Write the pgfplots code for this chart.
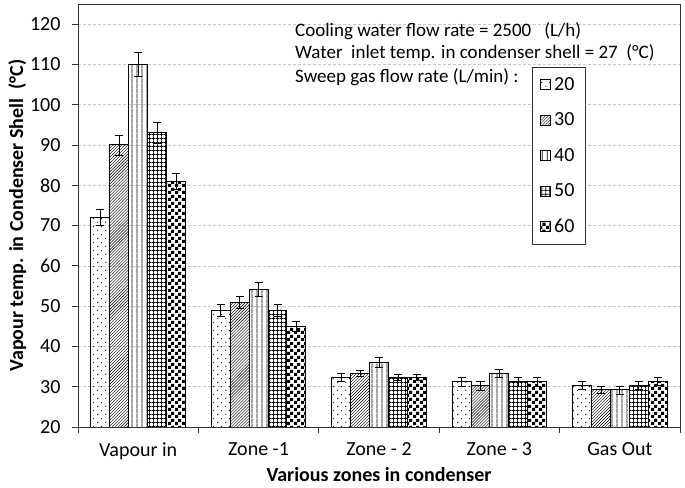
\documentclass[border=0pt]{standalone}
\usepackage{fontspec}
\setmainfont{Carlito}
\usepackage{pgfplots}
\pgfplotsset{compat=1.18}
\usetikzlibrary{patterns}

\pgfdeclarepatternformonly{sdots}{\pgfpoint{0bp}{0bp}}{\pgfpoint{8bp}{8bp}}{\pgfpoint{8bp}{8bp}}{%
  \pgfpathcircle{\pgfpoint{2bp}{2bp}}{0.7bp}\pgfpathcircle{\pgfpoint{6bp}{6bp}}{0.7bp}\pgfusepath{fill}}
\pgfdeclarepatternformonly{vlines}{\pgfpoint{0bp}{0bp}}{\pgfpoint{5bp}{5bp}}{\pgfpoint{5bp}{5bp}}{%
  \pgfsetlinewidth{0.9bp}\pgfpathmoveto{\pgfpoint{2.5bp}{-0.5bp}}\pgfpathlineto{\pgfpoint{2.5bp}{5.5bp}}\pgfusepath{stroke}}
\pgfdeclarepatternformonly{mygrid}{\pgfpoint{0bp}{0bp}}{\pgfpoint{4bp}{4bp}}{\pgfpoint{4bp}{4bp}}{%
  \pgfsetlinewidth{0.9bp}\pgfpathmoveto{\pgfpoint{2bp}{-0.5bp}}\pgfpathlineto{\pgfpoint{2bp}{4.5bp}}%
  \pgfpathmoveto{\pgfpoint{-0.5bp}{2bp}}\pgfpathlineto{\pgfpoint{4.5bp}{2bp}}\pgfusepath{stroke}}
\pgfdeclarepatternformonly{mychecker}{\pgfpoint{0bp}{0bp}}{\pgfpoint{7bp}{7bp}}{\pgfpoint{7bp}{7bp}}{%
  \pgfpathrectangle{\pgfpoint{0bp}{0bp}}{\pgfpoint{3.5bp}{3.5bp}}%
  \pgfpathrectangle{\pgfpoint{3.5bp}{3.5bp}}{\pgfpoint{3.5bp}{3.5bp}}\pgfusepath{fill}}

\begin{document}
\begin{tikzpicture}
\path[use as bounding box] (-78bp,-61bp) rectangle (607bp,427bp);
\begin{axis}[
  at={(0,0)}, anchor=south west,
  width=602bp, height=423bp, scale only axis,
  font=\fontsize{20bp}{24bp}\selectfont,
  /pgf/number format/assume math mode=true,
  xmin=-0.5, xmax=4.5,
  ymin=20, ymax=125,
  ytick={20,30,...,120},
  xtick={-0.5,0.5,...,4.5},
  xticklabels={Vapour in, Zone -1, Zone - 2, Zone - 3, Gas Out},
  x tick label as interval,
  xtick pos=bottom, ytick pos=left,
  tick align=outside,
  major tick length=6bp,
  tick style={black!80, line width=0.8bp},
  yticklabel style={xshift=-8bp},
  xticklabel style={yshift=-6bp},
  axis line style={black!80, line width=0.9bp},
  ymajorgrids,
  major grid style={gray!45, dash pattern=on 3bp off 2bp, line width=0.6bp},
  xlabel={\bfseries Various zones in condenser},
  xlabel shift=1bp,
  ylabel={\bfseries Vapour temp. in Condenser Shell\ \ (°C)},
  ylabel shift=-3bp,
  ybar=0pt, bar width=0.157,
  legend style={at={(rel axis cs:0.754,0.851)}, anchor=north west,
    draw=black!80, line width=0.8bp, row sep=15bp, inner ysep=7bp, inner xsep=8bp,
    nodes={inner sep=3bp},
    font=\fontsize{20bp}{24bp}\selectfont, cells={anchor=west}},
  legend cell align=left,
  legend image code/.code={\draw[#1, line width=0.8bp] (0bp,-5bp) rectangle (10bp,5bp);},
  every axis plot/.append style={draw=black, line width=1bp,
    error bars/y dir=both, error bars/y explicit,
    error bars/error bar style={line width=0.8bp, black},
    error bars/error mark options={rotate=90, mark size=4bp, line width=0.8bp, black}},
]
\addplot[pattern=sdots] coordinates {(0,72) +- (0,2) (1,49) +- (0,1.5) (2,32.2) +- (0,1) (3,31.2) +- (0,1) (4,30.3) +- (0,1)};
\addplot[pattern=north east lines] coordinates {(0,90) +- (0,2.5) (1,51) +- (0,1.5) (2,33.3) +- (0,0.8) (3,30.2) +- (0,1) (4,29.2) +- (0,0.8)};
\addplot[pattern=vlines] coordinates {(0,110) +- (0,3) (1,54.2) +- (0,1.8) (2,36) +- (0,1.2) (3,33.4) +- (0,1) (4,29.2) +- (0,1)};
\addplot[pattern=mygrid] coordinates {(0,93) +- (0,2.5) (1,49) +- (0,1.5) (2,32.3) +- (0,0.8) (3,31.2) +- (0,1) (4,30.3) +- (0,1)};
\addplot[pattern=mychecker] coordinates {(0,81) +- (0,2) (1,45) +- (0,1.2) (2,32.3) +- (0,0.7) (3,31.2) +- (0,1) (4,31.3) +- (0,1)};
\legend{20,30,40,50,60}
\node[anchor=west, inner sep=0pt, font=\fontsize{19bp}{23bp}\selectfont] at (rel axis cs:0.3605,0.936) {Cooling water flow rate = 2500\ \ \ (L/h)};
\node[anchor=west, inner sep=0pt, font=\fontsize{19bp}{23bp}\selectfont] at (rel axis cs:0.3605,0.884) {Water\ \ inlet temp. in condenser shell = 27\ \ (°C)};
\node[anchor=west, inner sep=0pt, font=\fontsize{19bp}{23bp}\selectfont] at (rel axis cs:0.3605,0.827) {Sweep gas flow rate (L/min) :};
\end{axis}
\end{tikzpicture}
\end{document}
